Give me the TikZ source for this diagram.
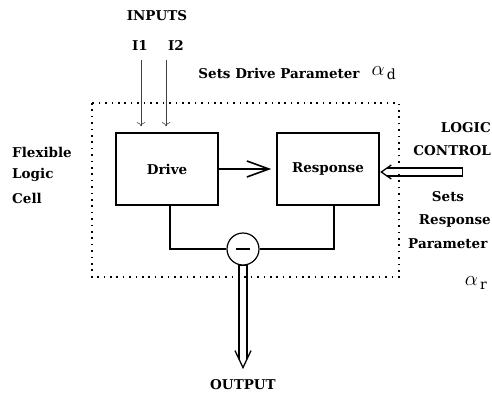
\documentclass[tikz,border=0pt]{standalone}
\usepackage{fontspec}
\setmainfont{DejaVu Serif}
\usetikzlibrary{arrows.meta}
\begin{document}
\begin{tikzpicture}[x=1pt,y=-1pt]
	\tikzset{lbl/.style={font=\fontsize{13.5}{16}\selectfont\bfseries, inner sep=0pt},
	blk/.style={draw, line width=1.6pt, minimum width=102pt, minimum height=72pt, font=\fontsize{13.5}{16}\selectfont\bfseries},
	hollow/.style={line width=1.3pt, line join=miter},
	greek/.style={font=\fontsize{20}{22}\selectfont, inner sep=0pt}};
	\useasboundingbox (0,0) rectangle (492,394);
	\draw[line width=1.6pt, dash pattern=on 1.6pt off 4.8pt] (92,103) rectangle (399,277);

	\node[blk] (drive) at (167,169) {Drive};
	\node[blk] (resp) at (328,169) {Response};
	\node[circle, draw, line width=1.2pt, minimum size=32pt, inner sep=0pt] (diff) at (243,249) {};
	\draw[line width=2pt] ([xshift=-7pt]diff.center) -- ([xshift=7pt]diff.center);

	\draw[line width=1.6pt, -{Straight Barb[length=22pt, width=16pt]}, shorten >=5pt] (drive) -- (resp);
	\draw[line width=1.3pt] ([xshift=3pt]drive.south) |- (diff.west);
	\draw[line width=1.3pt] ([xshift=6pt]resp.south) |- (diff.east);

	\node[lbl] (inputs) at (157,16) {INPUTS};
	\foreach \x/\n in {140/1, 176/2}{
		\node[lbl] (in\n) at (\x,45) {I\n};
	}
	\foreach \x/\n in {141/1, 166/2}{
		\coordinate (src\n) at (\x,60);
		\draw[line width=0.6pt, draw=black!75, -{To[length=4pt]}, shorten >=6pt] (src\n) -- (src\n |- drive.north);
	}

	\coordinate (ctl) at (462,172);
	\coordinate (ctltip) at ([xshift=1.5pt]resp.east |- ctl);
	\draw[hollow] (ctltip) ++(5.7,-4) -- ++(75.3,0) -- ++(0,8) -- ++(-75.3,0);
	\draw[hollow] (ctltip) ++(10,-7) -- (ctltip) -- ++(10,7);
	\coordinate (out) at ([yshift=-102pt]diff.south);
	\draw[hollow] (diff.south) ++(-4,93.5) -- ++(0,-93.5) -- ++(8,0) -- ++(0,93.5);
	\draw[hollow] (out) ++(-8,-17) -- (out) -- ++(8,-17);

	\node[lbl] (setsd) at (279,73) {Sets Drive Parameter};
	\node[greek] (alphad) at (384,73) {$\alpha_{\,\mathrm{d}}$};
	\foreach \y/\t in {152/Flexible, 175/Logic, 198/Cell}{
		\node[lbl, anchor=west] (cell\t) at (12,\y) {\t};
	}
	\node[lbl, anchor=east] (logic) at (491,128) {LOGIC};
	\node[lbl, anchor=east] (control) at (491,151) {CONTROL};
	\node[lbl] (sets) at (448,197) {Sets};
	\node[lbl, anchor=east] (respp) at (491,221) {Response};
	\node[lbl, anchor=west] (param) at (408,244) {Parameter};
	\node[greek] (alphar) at (476,283) {$\alpha_{\,\mathrm{r}}$};
	\node[lbl] (output) at (243,385) {OUTPUT};
\end{tikzpicture}
\end{document}
